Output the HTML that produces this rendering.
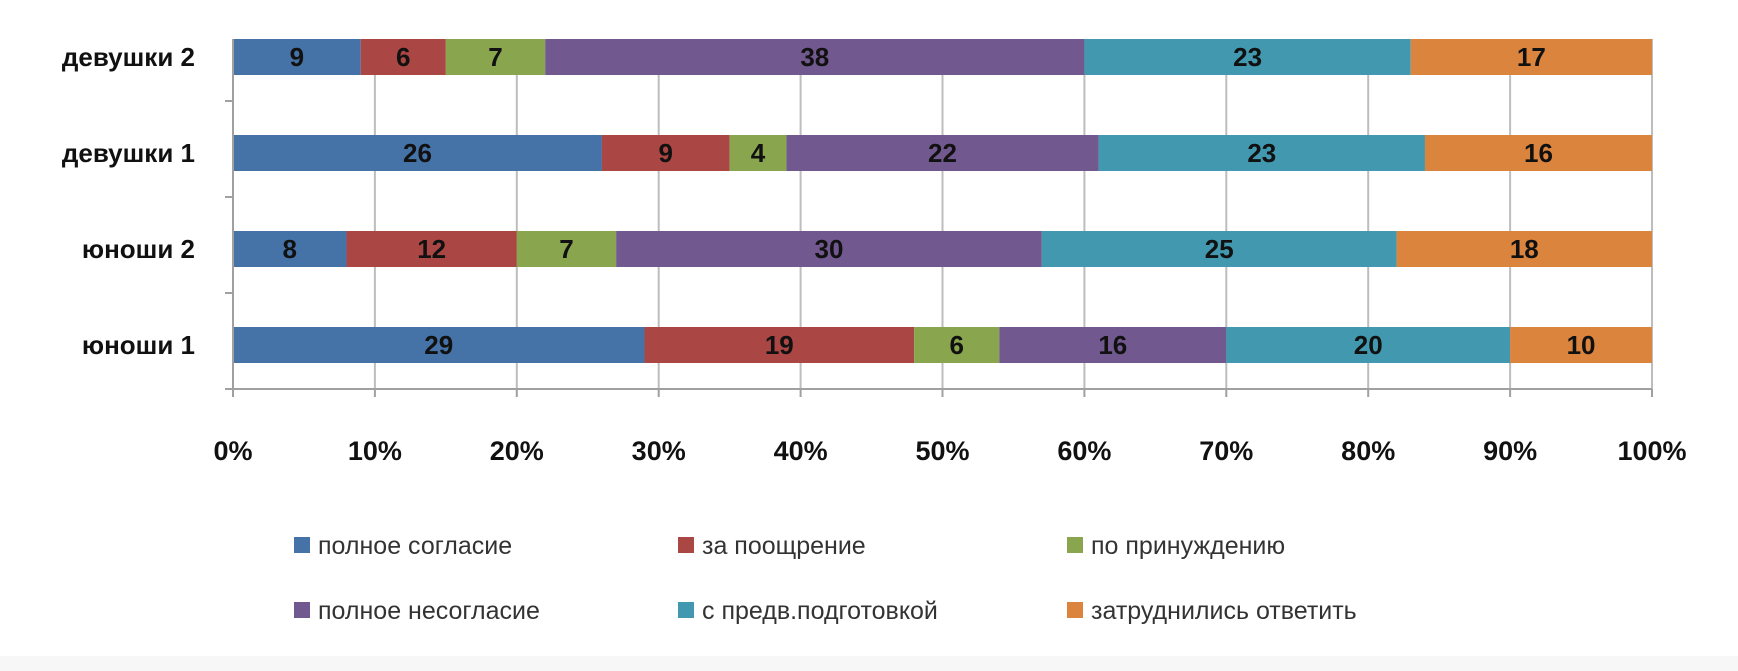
<!DOCTYPE html>
<html><head><meta charset="utf-8"><style>
html,body{margin:0;padding:0;background:#fff;}
svg{display:block;font-family:"Liberation Sans","DejaVu Sans",sans-serif;}
</style></head><body>
<svg id="chart" width="1738" height="671" viewBox="0 0 1738 671" xmlns="http://www.w3.org/2000/svg">
<rect x="0" y="0" width="1738" height="671" fill="#ffffff"/>
<rect x="0" y="656" width="1738" height="15" fill="#f7f7f7"/>
<g id="grid"></g><g id="bars"></g><g id="axes"></g><g id="legend"></g>
</svg>
<script>
const categories = ["девушки 2","девушки 1","юноши 2","юноши 1"];
const seriesNames = ["полное согласие","за поощрение","по принуждению","полное несогласие","с предв.подготовкой","затруднились ответить"];
const sFull = [9,26,8,29];
const sReward = [6,9,12,19];
const sForced = [7,4,7,6];
const sDisagree = [38,22,30,16];
const sPrep = [23,23,25,20];
const sUnsure = [17,16,18,10];
const xTicks = ["0%","10%","20%","30%","40%","50%","60%","70%","80%","90%","100%"];
const series = [sFull,sReward,sForced,sDisagree,sPrep,sUnsure];
const colors = ["#4572A7","#AA4643","#89A54E","#71588F","#4198AF","#DB843D"];
const NS="http://www.w3.org/2000/svg";
const X0=233,X1=1652,YT=5,YB=389,GT=39;
const xs=p=>X0+(X1-X0)*p/100;
const band=(YB-YT)/categories.length;
const yc=i=>YT+band*(i+0.5)+4;
function mk(t,a,parent){const e=document.createElementNS(NS,t);for(const k in a)e.setAttribute(k,a[k]);parent.appendChild(e);return e;}
const grid=document.getElementById('grid'),bars=document.getElementById('bars'),axes=document.getElementById('axes'),legend=document.getElementById('legend');
xTicks.forEach((t,i)=>{
  const x=xs(i*100/(xTicks.length-1));
  if(i>0){const g=mk('line',{x1:x,x2:x,y1:GT,y2:YB,stroke:'#bdbdbd','stroke-width':2},grid);
  
  }
  const tk=mk('line',{x1:x,x2:x,y1:YB,y2:YB+8,stroke:'#a0a0a0','stroke-width':2},axes);
  
  
  const lb=mk('text',{x:x,y:460,'text-anchor':'middle','font-size':27,'font-weight':'bold',fill:'#111'},axes);
  lb.textContent=t;
  
  
});
const ax=mk('line',{x1:X0-8,x2:X1,y1:YB,y2:YB,stroke:'#a0a0a0','stroke-width':2},axes);


const ay=mk('line',{x1:X0,x2:X0,y1:GT,y2:YB+8,stroke:'#a0a0a0','stroke-width':2},axes);


for(let i=1;i<categories.length;i++){
  const t=mk('line',{x1:X0-8,x2:X0,y1:YT+band*i,y2:YT+band*i,stroke:'#a0a0a0','stroke-width':2},axes);
  
  
}
const BH=36;
categories.forEach((c,i)=>{
  const y=yc(i);
  const total=series.reduce((s,a)=>s+a[i],0);
  let acc=0;
  series.forEach((s,j)=>{
    const v=s[i];
    const xa=xs(acc/total*100), xb=xs((acc+v)/total*100);
    const r=mk('rect',{x:xa,y:y-BH/2,width:xb-xa,height:BH,fill:colors[j]},bars);
    
    
    const t=mk('text',{x:(xa+xb)/2,y:y+9,'text-anchor':'middle','font-size':26,'font-weight':'bold',fill:'#111'},bars);
    t.textContent=v;
    
    
    acc+=v;
  });
  const cl=mk('text',{x:195,y:y+9,'text-anchor':'end','font-size':26,'font-weight':'bold',fill:'#111'},axes);
  cl.textContent=c;
  
  
});
const lx=[294,678,1067], ly=[545,610];
seriesNames.forEach((n,j)=>{
  const x=lx[j%3], y=ly[Math.floor(j/3)];
  const g=mk('g',{},legend);
  
  
  mk('rect',{x:x,y:y-8,width:16,height:16,fill:colors[j]},g);
  const t=mk('text',{x:x+24,y:y+9,'font-size':25,fill:'#333'},g);
  t.textContent=n;
});
</script>
</body></html>
